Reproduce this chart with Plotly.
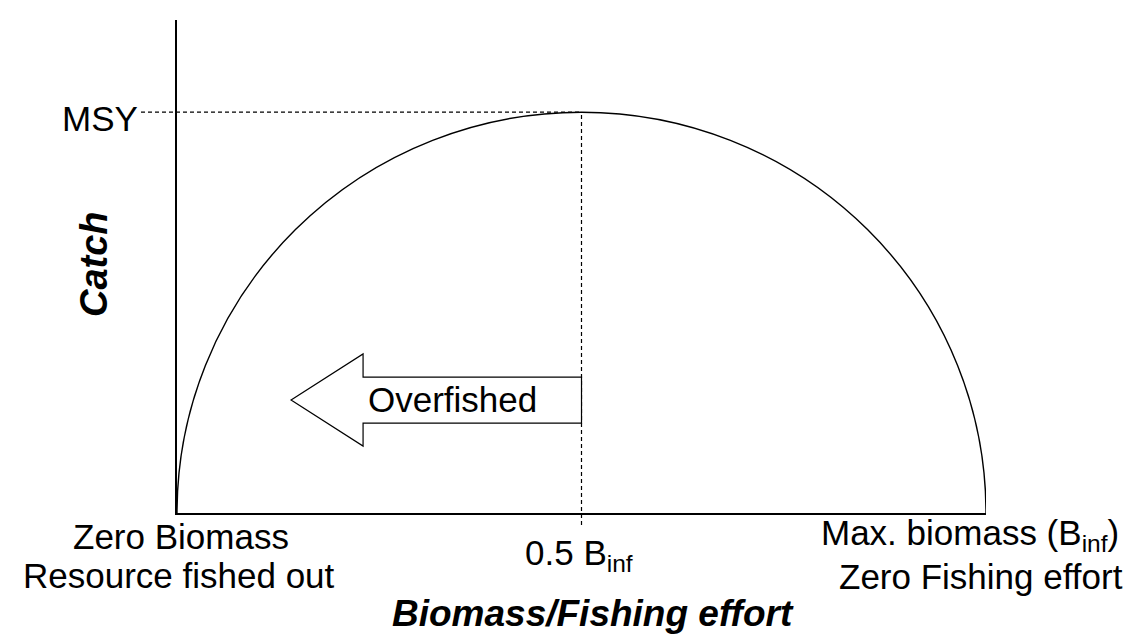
import plotly.graph_objects as go

# ---- data (relative units: biomass as fraction of B_inf, catch as fraction of MSY)
biomass_ends = [0.0, 1.0]          # zero biomass, maximum biomass (B_inf)
msy_biomass = 0.5                  # biomass at MSY (0.5 B_inf)
msy_catch = 1.0                    # MSY (peak catch)
y_top = 1.23                       # top of the catch axis
left_labels = ["Zero Biomass", "Resource fished out"]
right_labels = ["Max. biomass (B<sub>inf</sub>)", "Zero Fishing effort"]
mid_label = "0.5 B<sub>inf</sub>"
arrow_label = "Overfished"

# ---- layout constants (pixels)
W, H = 1135, 634
ML, MR, MT, MB = 169, 157, 12, 129
PW = W - ML - MR
PH = H - MT - MB

FONT = "Liberation Sans"
FS = 35
BLACK = "#000000"

fig = go.Figure()

# invisible trace to instantiate axes
fig.add_trace(go.Scatter(x=biomass_ends, y=[0, 0], mode="lines",
                         line=dict(color="rgba(0,0,0,0)"), hoverinfo="skip",
                         showlegend=False))

shapes = []
# yield curve: upper half of an ellipse through (0,0), (0.5,MSY), (1,0)
shapes.append(dict(type="circle", xref="x", yref="y",
                   x0=biomass_ends[0], x1=biomass_ends[1],
                   y0=-msy_catch, y1=msy_catch,
                   line=dict(color=BLACK, width=1.4), layer="above"))

# dashed MSY horizontal line (starts left of the axis)
shapes.append(dict(type="line", xref="paper", yref="y",
                   x0=-36 / PW, x1=msy_biomass, y0=msy_catch, y1=msy_catch,
                   line=dict(color=BLACK, width=1.2, dash="4px,3px")))
# dashed vertical line at 0.5 B_inf
shapes.append(dict(type="line", xref="x", yref="paper",
                   x0=msy_biomass, x1=msy_biomass,
                   y0=-12 / PH, y1=msy_catch / y_top,
                   line=dict(color=BLACK, width=1.2, dash="4px,3px")))

# hollow block arrow pointing left (ending on the 0.5 B_inf line)
tip_x, head_x, end_x = 0.141, 0.230, msy_biomass
head_top, head_bot = 0.397, 0.167
body_top, body_bot = 0.339, 0.224
mid_y = 0.282
path = (f"M {end_x} {body_top} L {head_x} {body_top} L {head_x} {head_top} "
        f"L {tip_x} {mid_y} L {head_x} {head_bot} L {head_x} {body_bot} "
        f"L {end_x} {body_bot} Z")
shapes.append(dict(type="path", xref="x", yref="y", path=path,
                   fillcolor="white", line=dict(color=BLACK, width=1.2),
                   layer="above"))

annotations = []


def txt(text, x, y, xref="paper", yref="paper", xanchor="center",
        yanchor="middle", xshift=0, yshift=0, size=FS, weight="normal",
        style="normal", angle=0):
    annotations.append(dict(text=text, x=x, y=y, xref=xref, yref=yref,
                            xanchor=xanchor, yanchor=yanchor,
                            xshift=xshift, yshift=yshift, showarrow=False,
                            textangle=angle,
                            font=dict(family=FONT, size=size, color=BLACK,
                                      weight=weight, style=style)))


# MSY label
txt("MSY", 0, msy_catch, xref="paper", yref="y", xanchor="right",
    xshift=-37, yshift=-6)
# bottom labels
txt(left_labels[0], biomass_ends[0], 0, xref="x", xshift=4, yshift=-23)
txt(left_labels[1], biomass_ends[0], 0, xref="x", xshift=2, yshift=-62)
txt(mid_label, msy_biomass, 0, xref="x", xshift=-3, yshift=-42)
txt(right_labels[0], biomass_ends[1], 0, xref="x", xshift=-16, yshift=-22)
txt(right_labels[1], biomass_ends[1], 0, xref="x", xshift=-5, yshift=-63)
# arrow label
txt(arrow_label, (444 - ML) / PW, (505 - 392) / PH)
# axis titles
txt("Biomass/Fishing effort", (585 - ML) / PW, -(605 - 505) / PH,
    size=37, weight="bold", style="italic")
txt("Catch", -(169 - 86) / PW, (505 - 256) / PH, size=38,
    weight="bold", style="italic", angle=-90)

fig.update_layout(
    width=W, height=H,
    margin=dict(l=ML, r=MR, t=MT, b=MB, pad=0),
    paper_bgcolor="white", plot_bgcolor="white",
    shapes=shapes, annotations=annotations, showlegend=False,
    xaxis=dict(range=biomass_ends, showline=True, linecolor=BLACK,
               linewidth=1.5, showgrid=False, zeroline=False,
               showticklabels=False, ticks=""),
    yaxis=dict(range=[0, y_top], showline=True, linecolor=BLACK,
               linewidth=1.5, showgrid=False, zeroline=False,
               showticklabels=False, ticks=""),
)

fig.write_html("out.html")
